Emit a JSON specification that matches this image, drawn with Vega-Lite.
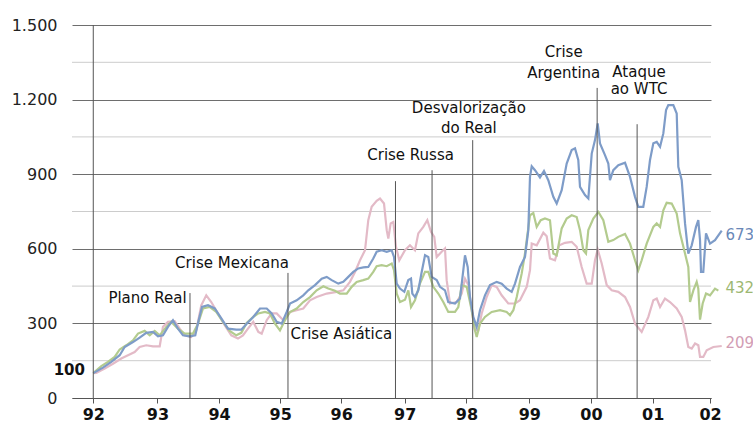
{
  "$schema": "https://vega.github.io/schema/vega-lite/v6.json",
  "width": 639,
  "height": 373,
  "autosize": {"type": "none"},
  "padding": {"left": 72, "top": 25, "right": 42, "bottom": 25},
  "background": "white",
  "config": {"view": {"stroke": null}, "font": "DejaVu Sans"},
  "datasets": {
    "series": [
      {"s":"C","x":92.0,"y":100},{"s":"C","x":92.049,"y":101},{"s":"C","x":92.185,"y":118},{"s":"C","x":92.319,"y":138},{"s":"C","x":92.454,"y":159},{"s":"C","x":92.563,"y":172},{"s":"C","x":92.671,"y":185},{"s":"C","x":92.752,"y":205},{"s":"C","x":92.859,"y":212},{"s":"C","x":92.968,"y":208},{"s":"C","x":93.077,"y":208},{"s":"C","x":93.13,"y":286},{"s":"C","x":93.211,"y":306},{"s":"C","x":93.32,"y":309},{"s":"C","x":93.401,"y":279},{"s":"C","x":93.482,"y":252},{"s":"C","x":93.589,"y":245},{"s":"C","x":93.67,"y":272},{"s":"C","x":93.751,"y":373},{"s":"C","x":93.832,"y":413},{"s":"C","x":93.913,"y":386},{"s":"C","x":94.022,"y":340},{"s":"C","x":94.131,"y":293},{"s":"C","x":94.238,"y":252},{"s":"C","x":94.346,"y":239},{"s":"C","x":94.427,"y":252},{"s":"C","x":94.487,"y":272},{"s":"C","x":94.594,"y":306},{"s":"C","x":94.676,"y":266},{"s":"C","x":94.731,"y":259},{"s":"C","x":94.812,"y":313},{"s":"C","x":94.893,"y":340},{"s":"C","x":94.974,"y":340},{"s":"C","x":95.081,"y":313},{"s":"C","x":95.19,"y":346},{"s":"C","x":95.298,"y":353},{"s":"C","x":95.405,"y":360},{"s":"C","x":95.514,"y":393},{"s":"C","x":95.622,"y":406},{"s":"C","x":95.785,"y":420},{"s":"C","x":95.947,"y":427},{"s":"C","x":96.054,"y":433},{"s":"C","x":96.162,"y":467},{"s":"C","x":96.244,"y":507},{"s":"C","x":96.325,"y":554},{"s":"C","x":96.406,"y":594},{"s":"C","x":96.459,"y":715},{"s":"C","x":96.514,"y":769},{"s":"C","x":96.595,"y":793},{"s":"C","x":96.649,"y":802},{"s":"C","x":96.714,"y":782},{"s":"C","x":96.758,"y":675},{"s":"C","x":96.784,"y":641},{"s":"C","x":96.822,"y":702},{"s":"C","x":96.865,"y":708},{"s":"C","x":96.908,"y":608},{"s":"C","x":96.962,"y":554},{"s":"C","x":97.054,"y":594},{"s":"C","x":97.135,"y":614},{"s":"C","x":97.216,"y":594},{"s":"C","x":97.27,"y":662},{"s":"C","x":97.351,"y":688},{"s":"C","x":97.416,"y":715},{"s":"C","x":97.476,"y":668},{"s":"C","x":97.529,"y":648},{"s":"C","x":97.568,"y":567},{"s":"C","x":97.649,"y":588},{"s":"C","x":97.703,"y":601},{"s":"C","x":97.73,"y":474},{"s":"C","x":97.784,"y":380},{"s":"C","x":97.892,"y":386},{"s":"C","x":97.974,"y":420},{"s":"C","x":98.027,"y":480},{"s":"C","x":98.081,"y":454},{"s":"C","x":98.136,"y":353},{"s":"C","x":98.189,"y":272},{"s":"C","x":98.243,"y":272},{"s":"C","x":98.298,"y":340},{"s":"C","x":98.379,"y":406},{"s":"C","x":98.46,"y":454},{"s":"C","x":98.541,"y":447},{"s":"C","x":98.622,"y":413},{"s":"C","x":98.729,"y":380},{"s":"C","x":98.838,"y":380},{"s":"C","x":98.919,"y":393},{"s":"C","x":99.028,"y":447},{"s":"C","x":99.081,"y":514},{"s":"C","x":99.109,"y":621},{"s":"C","x":99.19,"y":614},{"s":"C","x":99.297,"y":665},{"s":"C","x":99.352,"y":650},{"s":"C","x":99.405,"y":561},{"s":"C","x":99.486,"y":554},{"s":"C","x":99.556,"y":614},{"s":"C","x":99.649,"y":624},{"s":"C","x":99.757,"y":628},{"s":"C","x":99.838,"y":608},{"s":"C","x":99.919,"y":527},{"s":"C","x":100.0,"y":460},{"s":"C","x":100.082,"y":460},{"s":"C","x":100.135,"y":554},{"s":"C","x":100.179,"y":597},{"s":"C","x":100.244,"y":541},{"s":"C","x":100.325,"y":454},{"s":"C","x":100.406,"y":433},{"s":"C","x":100.513,"y":427},{"s":"C","x":100.622,"y":406},{"s":"C","x":100.703,"y":366},{"s":"C","x":100.784,"y":299},{"s":"C","x":100.892,"y":266},{"s":"C","x":101.0,"y":326},{"s":"C","x":101.081,"y":393},{"s":"C","x":101.136,"y":400},{"s":"C","x":101.19,"y":366},{"s":"C","x":101.27,"y":400},{"s":"C","x":101.351,"y":386},{"s":"C","x":101.46,"y":360},{"s":"C","x":101.541,"y":326},{"s":"C","x":101.595,"y":272},{"s":"C","x":101.648,"y":205},{"s":"C","x":101.703,"y":199},{"s":"C","x":101.757,"y":219},{"s":"C","x":101.811,"y":212},{"s":"C","x":101.838,"y":165},{"s":"C","x":101.891,"y":165},{"s":"C","x":101.946,"y":192},{"s":"C","x":102.054,"y":205},{"s":"C","x":102.19,"y":209},
      {"s":"B","x":92.0,"y":100},{"s":"B","x":92.13,"y":128},{"s":"B","x":92.238,"y":145},{"s":"B","x":92.347,"y":165},{"s":"B","x":92.428,"y":195},{"s":"B","x":92.535,"y":212},{"s":"B","x":92.644,"y":232},{"s":"B","x":92.725,"y":259},{"s":"B","x":92.833,"y":270},{"s":"B","x":92.915,"y":252},{"s":"B","x":92.996,"y":270},{"s":"B","x":93.077,"y":252},{"s":"B","x":93.184,"y":286},{"s":"B","x":93.265,"y":306},{"s":"B","x":93.373,"y":279},{"s":"B","x":93.482,"y":259},{"s":"B","x":93.617,"y":259},{"s":"B","x":93.698,"y":299},{"s":"B","x":93.779,"y":360},{"s":"B","x":93.887,"y":366},{"s":"B","x":93.994,"y":346},{"s":"B","x":94.103,"y":306},{"s":"B","x":94.212,"y":270},{"s":"B","x":94.319,"y":252},{"s":"B","x":94.4,"y":262},{"s":"B","x":94.487,"y":302},{"s":"B","x":94.594,"y":326},{"s":"B","x":94.676,"y":340},{"s":"B","x":94.784,"y":346},{"s":"B","x":94.865,"y":340},{"s":"B","x":94.946,"y":299},{"s":"B","x":95.027,"y":272},{"s":"B","x":95.108,"y":313},{"s":"B","x":95.19,"y":346},{"s":"B","x":95.298,"y":360},{"s":"B","x":95.405,"y":386},{"s":"B","x":95.514,"y":406},{"s":"B","x":95.622,"y":433},{"s":"B","x":95.73,"y":449},{"s":"B","x":95.811,"y":440},{"s":"B","x":95.919,"y":431},{"s":"B","x":96.0,"y":420},{"s":"B","x":96.109,"y":420},{"s":"B","x":96.19,"y":447},{"s":"B","x":96.271,"y":467},{"s":"B","x":96.378,"y":474},{"s":"B","x":96.459,"y":480},{"s":"B","x":96.54,"y":507},{"s":"B","x":96.595,"y":530},{"s":"B","x":96.676,"y":534},{"s":"B","x":96.758,"y":530},{"s":"B","x":96.839,"y":541},{"s":"B","x":96.876,"y":514},{"s":"B","x":96.92,"y":420},{"s":"B","x":96.973,"y":386},{"s":"B","x":97.054,"y":395},{"s":"B","x":97.108,"y":433},{"s":"B","x":97.152,"y":366},{"s":"B","x":97.216,"y":393},{"s":"B","x":97.297,"y":460},{"s":"B","x":97.379,"y":507},{"s":"B","x":97.432,"y":507},{"s":"B","x":97.513,"y":447},{"s":"B","x":97.594,"y":420},{"s":"B","x":97.675,"y":386},{"s":"B","x":97.756,"y":346},{"s":"B","x":97.865,"y":346},{"s":"B","x":97.919,"y":366},{"s":"B","x":97.974,"y":454},{"s":"B","x":98.055,"y":447},{"s":"B","x":98.136,"y":353},{"s":"B","x":98.189,"y":272},{"s":"B","x":98.217,"y":245},{"s":"B","x":98.27,"y":299},{"s":"B","x":98.351,"y":326},{"s":"B","x":98.46,"y":346},{"s":"B","x":98.595,"y":353},{"s":"B","x":98.703,"y":346},{"s":"B","x":98.757,"y":333},{"s":"B","x":98.811,"y":353},{"s":"B","x":98.866,"y":406},{"s":"B","x":98.947,"y":501},{"s":"B","x":99.0,"y":581},{"s":"B","x":99.028,"y":635},{"s":"B","x":99.081,"y":735},{"s":"B","x":99.135,"y":744},{"s":"B","x":99.19,"y":688},{"s":"B","x":99.255,"y":715},{"s":"B","x":99.324,"y":722},{"s":"B","x":99.405,"y":715},{"s":"B","x":99.459,"y":581},{"s":"B","x":99.514,"y":574},{"s":"B","x":99.595,"y":682},{"s":"B","x":99.676,"y":722},{"s":"B","x":99.757,"y":735},{"s":"B","x":99.838,"y":728},{"s":"B","x":99.892,"y":675},{"s":"B","x":99.946,"y":594},{"s":"B","x":99.989,"y":581},{"s":"B","x":100.027,"y":675},{"s":"B","x":100.108,"y":722},{"s":"B","x":100.189,"y":748},{"s":"B","x":100.27,"y":715},{"s":"B","x":100.351,"y":628},{"s":"B","x":100.432,"y":635},{"s":"B","x":100.513,"y":648},{"s":"B","x":100.622,"y":660},{"s":"B","x":100.703,"y":621},{"s":"B","x":100.784,"y":554},{"s":"B","x":100.837,"y":514},{"s":"B","x":100.892,"y":554},{"s":"B","x":100.973,"y":621},{"s":"B","x":101.081,"y":688},{"s":"B","x":101.136,"y":702},{"s":"B","x":101.19,"y":688},{"s":"B","x":101.243,"y":755},{"s":"B","x":101.297,"y":785},{"s":"B","x":101.379,"y":782},{"s":"B","x":101.46,"y":742},{"s":"B","x":101.514,"y":662},{"s":"B","x":101.595,"y":581},{"s":"B","x":101.648,"y":527},{"s":"B","x":101.676,"y":386},{"s":"B","x":101.73,"y":433},{"s":"B","x":101.784,"y":467},{"s":"B","x":101.81,"y":440},{"s":"B","x":101.838,"y":315},{"s":"B","x":101.881,"y":380},{"s":"B","x":101.935,"y":420},{"s":"B","x":102.0,"y":413},{"s":"B","x":102.081,"y":440},{"s":"B","x":102.135,"y":432},
      {"s":"A","x":92.0,"y":100},{"s":"A","x":92.157,"y":122},{"s":"A","x":92.292,"y":145},{"s":"A","x":92.428,"y":172},{"s":"A","x":92.509,"y":205},{"s":"A","x":92.644,"y":225},{"s":"A","x":92.752,"y":243},{"s":"A","x":92.859,"y":262},{"s":"A","x":92.968,"y":266},{"s":"A","x":93.049,"y":248},{"s":"A","x":93.13,"y":252},{"s":"A","x":93.211,"y":286},{"s":"A","x":93.292,"y":313},{"s":"A","x":93.373,"y":279},{"s":"A","x":93.454,"y":252},{"s":"A","x":93.563,"y":248},{"s":"A","x":93.654,"y":252},{"s":"A","x":93.709,"y":313},{"s":"A","x":93.763,"y":366},{"s":"A","x":93.86,"y":373},{"s":"A","x":93.969,"y":360},{"s":"A","x":94.076,"y":320},{"s":"A","x":94.184,"y":279},{"s":"A","x":94.319,"y":275},{"s":"A","x":94.4,"y":275},{"s":"A","x":94.487,"y":299},{"s":"A","x":94.594,"y":326},{"s":"A","x":94.703,"y":360},{"s":"A","x":94.812,"y":360},{"s":"A","x":94.893,"y":340},{"s":"A","x":94.974,"y":306},{"s":"A","x":95.055,"y":299},{"s":"A","x":95.136,"y":346},{"s":"A","x":95.19,"y":380},{"s":"A","x":95.298,"y":393},{"s":"A","x":95.405,"y":413},{"s":"A","x":95.486,"y":433},{"s":"A","x":95.595,"y":454},{"s":"A","x":95.704,"y":480},{"s":"A","x":95.785,"y":487},{"s":"A","x":95.866,"y":474},{"s":"A","x":95.973,"y":460},{"s":"A","x":96.054,"y":467},{"s":"A","x":96.135,"y":487},{"s":"A","x":96.216,"y":507},{"s":"A","x":96.297,"y":521},{"s":"A","x":96.378,"y":525},{"s":"A","x":96.459,"y":527},{"s":"A","x":96.54,"y":561},{"s":"A","x":96.595,"y":588},{"s":"A","x":96.676,"y":594},{"s":"A","x":96.758,"y":588},{"s":"A","x":96.839,"y":594},{"s":"A","x":96.876,"y":567},{"s":"A","x":96.92,"y":460},{"s":"A","x":96.973,"y":440},{"s":"A","x":97.043,"y":427},{"s":"A","x":97.108,"y":474},{"s":"A","x":97.152,"y":480},{"s":"A","x":97.173,"y":420},{"s":"A","x":97.216,"y":406},{"s":"A","x":97.27,"y":433},{"s":"A","x":97.325,"y":507},{"s":"A","x":97.379,"y":574},{"s":"A","x":97.432,"y":567},{"s":"A","x":97.487,"y":487},{"s":"A","x":97.568,"y":474},{"s":"A","x":97.622,"y":447},{"s":"A","x":97.703,"y":433},{"s":"A","x":97.756,"y":386},{"s":"A","x":97.865,"y":380},{"s":"A","x":97.946,"y":400},{"s":"A","x":98.0,"y":514},{"s":"A","x":98.027,"y":574},{"s":"A","x":98.071,"y":527},{"s":"A","x":98.108,"y":406},{"s":"A","x":98.162,"y":326},{"s":"A","x":98.217,"y":286},{"s":"A","x":98.27,"y":353},{"s":"A","x":98.351,"y":413},{"s":"A","x":98.432,"y":454},{"s":"A","x":98.541,"y":467},{"s":"A","x":98.622,"y":460},{"s":"A","x":98.703,"y":440},{"s":"A","x":98.784,"y":427},{"s":"A","x":98.838,"y":460},{"s":"A","x":98.919,"y":527},{"s":"A","x":99.0,"y":567},{"s":"A","x":99.054,"y":675},{"s":"A","x":99.081,"y":889},{"s":"A","x":99.109,"y":932},{"s":"A","x":99.162,"y":916},{"s":"A","x":99.243,"y":887},{"s":"A","x":99.308,"y":913},{"s":"A","x":99.378,"y":876},{"s":"A","x":99.459,"y":809},{"s":"A","x":99.514,"y":782},{"s":"A","x":99.595,"y":836},{"s":"A","x":99.676,"y":943},{"s":"A","x":99.757,"y":997},{"s":"A","x":99.811,"y":1004},{"s":"A","x":99.864,"y":957},{"s":"A","x":99.892,"y":849},{"s":"A","x":99.973,"y":816},{"s":"A","x":100.027,"y":802},{"s":"A","x":100.082,"y":983},{"s":"A","x":100.135,"y":1037},{"s":"A","x":100.179,"y":1104},{"s":"A","x":100.216,"y":1024},{"s":"A","x":100.297,"y":977},{"s":"A","x":100.351,"y":943},{"s":"A","x":100.378,"y":876},{"s":"A","x":100.432,"y":916},{"s":"A","x":100.513,"y":936},{"s":"A","x":100.622,"y":946},{"s":"A","x":100.703,"y":889},{"s":"A","x":100.784,"y":809},{"s":"A","x":100.837,"y":769},{"s":"A","x":100.918,"y":769},{"s":"A","x":100.973,"y":849},{"s":"A","x":101.027,"y":957},{"s":"A","x":101.081,"y":1024},{"s":"A","x":101.136,"y":1030},{"s":"A","x":101.19,"y":1010},{"s":"A","x":101.243,"y":1064},{"s":"A","x":101.287,"y":1158},{"s":"A","x":101.324,"y":1178},{"s":"A","x":101.405,"y":1178},{"s":"A","x":101.46,"y":1144},{"s":"A","x":101.486,"y":930},{"s":"A","x":101.541,"y":876},{"s":"A","x":101.595,"y":702},{"s":"A","x":101.648,"y":581},{"s":"A","x":101.703,"y":614},{"s":"A","x":101.773,"y":688},{"s":"A","x":101.81,"y":715},{"s":"A","x":101.838,"y":635},{"s":"A","x":101.854,"y":507},{"s":"A","x":101.891,"y":507},{"s":"A","x":101.935,"y":662},{"s":"A","x":102.0,"y":621},{"s":"A","x":102.081,"y":635},{"s":"A","x":102.19,"y":673}
    ],
    "minor": [
      {"g": 150}, {"g": 450}, {"g": 750}, {"g": 1050}, {"g": 1350}
    ],
    "events": [
      {"event": "eixo", "x": 92, "top": 1500},
      {"event": "Plano Real", "x": 93.568, "top": 422},
      {"event": "Crise Mexicana", "x": 95.157, "top": 503},
      {"event": "Crise Asiática", "x": 96.9, "top": 872},
      {"event": "Crise Russa", "x": 97.493, "top": 916},
      {"event": "Desvalorização do Real", "x": 98.152, "top": 1037},
      {"event": "Crise Argentina", "x": 100.17, "top": 1247},
      {"event": "Ataque ao WTC", "x": 100.818, "top": 1101}
    ],
    "notes": [
      {"text": "Plano Real", "x": 92.879, "y": 403},
      {"text": "Crise Mexicana", "x": 94.249, "y": 543},
      {"text": "Crise Asiática", "x": 96.022, "y": 257},
      {"text": "Crise Russa", "x": 97.145, "y": 977},
      {"text": "Desvalorização", "x": 98.09, "y": 1167},
      {"text": "do Real", "x": 98.09, "y": 1084},
      {"text": "Crise", "x": 99.628, "y": 1391},
      {"text": "Argentina", "x": 99.628, "y": 1308},
      {"text": "Ataque", "x": 100.849, "y": 1312},
      {"text": "ao WTC", "x": 100.849, "y": 1241}
    ],
    "ends": [
      {"s": "A", "label": "673", "x": 102.25, "y": 655},
      {"s": "B", "label": "432", "x": 102.25, "y": 441},
      {"s": "C", "label": "209", "x": 102.25, "y": 220}
    ],
    "base": [
      {"label": "100", "x": 91.865, "y": 113}
    ]
  },
  "layer": [
    {
      "data": {"name": "minor"},
      "mark": {"type": "rule", "color": "#cccccc", "strokeWidth": 1},
      "encoding": {
        "y": {"field": "g", "type": "quantitative", "title": null}
      }
    },
    {
      "data": {"name": "series"},
      "mark": {"type": "line", "strokeWidth": 2.2},
      "encoding": {
        "x": {
          "field": "x", "type": "quantitative",
          "scale": {"domain": [91.655, 102.016], "nice": false, "zero": false},
          "axis": {
            "title": null,
            "values": [92, 93.04, 94.04, 95.03, 96.02, 97.05, 98.05, 99.07, 100.07, 101.07, 102],
            "labelExpr": "format(floor(datum.value + 0.01) % 100, '02d')",
            "grid": false, "tickSize": 5, "tickColor": "#555", "domainColor": "#555",
            "labelFont": "DejaVu Sans", "labelFontWeight": "bold", "labelFontSize": 16,
            "labelColor": "#111", "labelPadding": 3, "labelFlush": false, "labelOverlap": false
          }
        },
        "y": {
          "field": "y", "type": "quantitative",
          "scale": {"domain": [0, 1500], "nice": false},
          "axis": {
            "title": null,
            "values": [0, 300, 600, 900, 1200, 1500],
            "labelExpr": "replace(format(datum.value, ','), ',', '.')",
            "grid": true, "gridColor": "#6e6e6e", "gridWidth": 1,
            "domain": false, "ticks": false, "labelPadding": 15,
            "labelFont": "DejaVu Sans", "labelFontSize": 16, "labelColor": "#222", "labelOverlap": false
          }
        },
        "color": {
          "field": "s", "type": "nominal",
          "scale": {"domain": ["A", "B", "C"], "range": ["#7e9cc8", "#b3cb8e", "#e3bac7"]},
          "legend": null
        }
      }
    },
    {
      "data": {"name": "events"},
      "mark": {"type": "rule", "color": "#555", "strokeWidth": 1},
      "encoding": {
        "x": {"field": "x", "type": "quantitative", "title": null},
        "y": {"field": "top", "type": "quantitative", "title": null},
        "y2": {"datum": 0}
      }
    },
    {
      "data": {"name": "notes"},
      "mark": {"type": "text", "font": "DejaVu Sans", "fontSize": 15, "color": "#111", "align": "center", "baseline": "middle"},
      "encoding": {
        "x": {"field": "x", "type": "quantitative", "title": null},
        "y": {"field": "y", "type": "quantitative", "title": null},
        "text": {"field": "text"}
      }
    },
    {
      "data": {"name": "ends"},
      "mark": {"type": "text", "font": "DejaVu Sans", "fontSize": 15, "align": "left", "baseline": "middle"},
      "encoding": {
        "x": {"field": "x", "type": "quantitative", "title": null},
        "y": {"field": "y", "type": "quantitative", "title": null},
        "text": {"field": "label"},
        "color": {
          "field": "s", "type": "nominal",
          "scale": {"domain": ["A", "B", "C"], "range": ["#6a88b8", "#9db872", "#d29db4"]},
          "legend": null
        }
      }
    },
    {
      "data": {"name": "base"},
      "mark": {"type": "text", "font": "DejaVu Sans", "fontSize": 15, "fontWeight": "bold", "color": "#111", "align": "right", "baseline": "middle"},
      "encoding": {
        "x": {"field": "x", "type": "quantitative", "title": null},
        "y": {"field": "y", "type": "quantitative", "title": null},
        "text": {"field": "label"}
      }
    }
  ],
  "resolve": {"scale": {"color": "independent"}}
}
